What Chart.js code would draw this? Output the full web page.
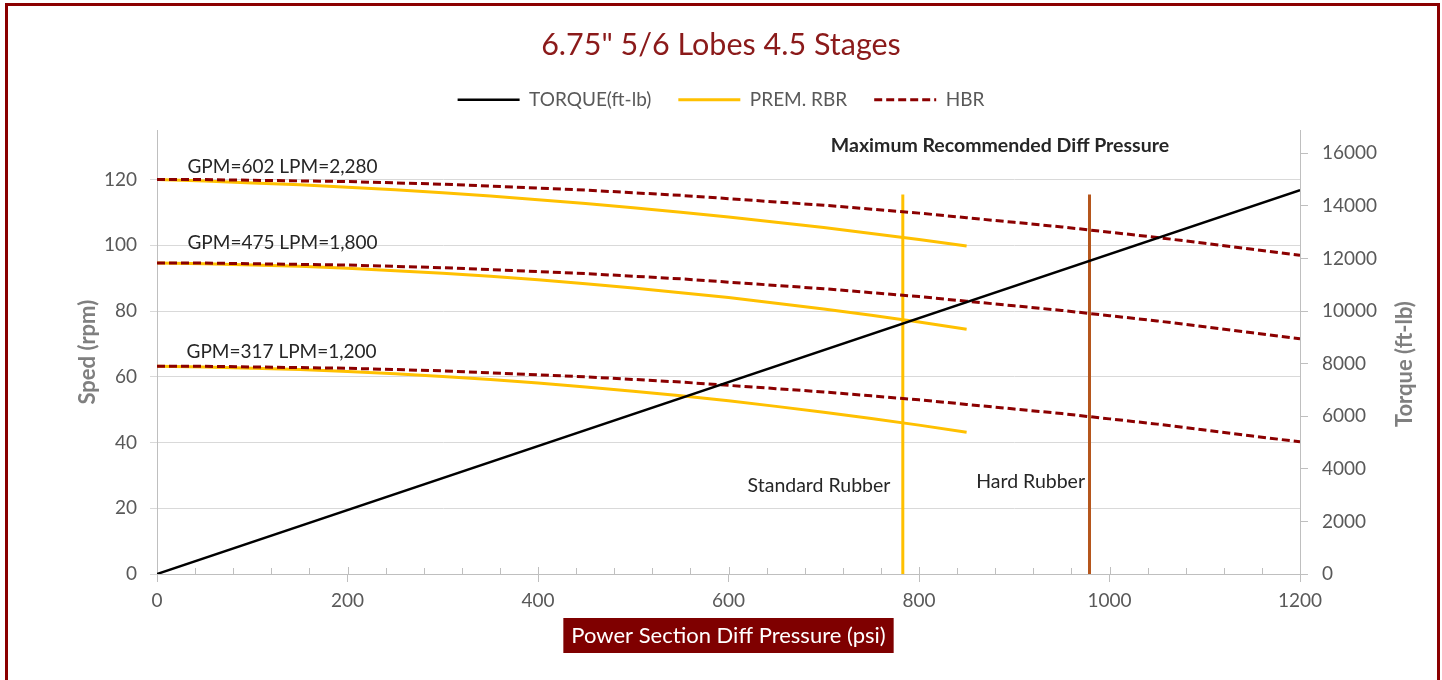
<!DOCTYPE html>
<html>
<head>
<meta charset="utf-8">
<script src="https://cdn.jsdelivr.net/npm/chart.js@4.4.1/dist/chart.umd.min.js"></script>
<style>
  html, body { margin: 0; padding: 0; background: #fff; overflow: hidden; }
  #wrap { position: relative; width: 1442px; height: 680px; }
  #frame {
    position: absolute; left: 5px; top: 3px; width: 1435px; height: 720px;
    box-sizing: border-box; border: 3px solid #8B0000; pointer-events: none;
  }
</style>
</head>
<body>
<div id="wrap">
  <canvas id="chart" width="1442" height="680"></canvas>
  <div id="frame"></div>
</div>
<script>
// ============================
// DATA
// ============================

const pressureRbr = [0, 50, 100, 150, 200, 250, 300, 350, 400, 450, 500, 550, 600, 650, 700, 750, 800, 850];
const rbr602 = [120.0, 119.6, 119.0, 118.4, 117.7, 116.9, 116.0, 115.0, 113.9, 112.7, 111.4, 110.1, 108.6, 107.0, 105.4, 103.6, 101.8, 99.8];
const rbr475 = [94.6, 94.4, 94.0, 93.6, 93.0, 92.3, 91.5, 90.6, 89.5, 88.3, 87.0, 85.6, 84.1, 82.4, 80.6, 78.7, 76.7, 74.5];
const rbr317 = [63.2, 63.0, 62.6, 62.2, 61.6, 60.9, 60.1, 59.2, 58.1, 56.9, 55.6, 54.2, 52.7, 51.0, 49.2, 47.3, 45.3, 43.1];

const pressureHbr = [0, 50, 100, 150, 200, 250, 300, 350, 400, 450, 500, 550, 600, 650, 700, 750, 800, 850, 900, 950, 1000, 1050, 1100, 1150, 1200];
const hbr602 = [120.0, 120.0, 119.8, 119.6, 119.4, 119.0, 118.6, 118.0, 117.4, 116.8, 116.0, 115.2, 114.2, 113.2, 112.2, 111.0, 109.8, 108.4, 107.0, 105.6, 104.0, 102.4, 100.6, 98.8, 97.0];
const hbr475 = [94.6, 94.6, 94.4, 94.2, 94.0, 93.6, 93.2, 92.6, 92.0, 91.4, 90.6, 89.8, 88.8, 87.8, 86.8, 85.6, 84.4, 83.0, 81.6, 80.2, 78.6, 77.0, 75.2, 73.4, 71.6];
const hbr317 = [63.2, 63.2, 63.0, 62.8, 62.6, 62.2, 61.8, 61.2, 60.6, 60.0, 59.2, 58.4, 57.4, 56.4, 55.4, 54.2, 53.0, 51.6, 50.2, 48.8, 47.2, 45.6, 43.8, 42.0, 40.2];

const torquePressure = [0, 1200];
const torqueValues = [0, 14600];

// max recommended diff pressure (psi): standard rubber, hard rubber
const limitPressure = [783, 979];
const limitSpeed = [0, 115.5];

const xTickValues = [0, 200, 400, 600, 800, 1000, 1200];
const speedTickValues = [0, 20, 40, 60, 80, 100, 120];
const torqueTickValues = [0, 2000, 4000, 6000, 8000, 10000, 12000, 14000, 16000];
const xRange = [0, 1200];
const speedRange = [0, 135];
const torqueRange = [0, 16875];
const xMinorStep = 40;

const chartTitle = '6.75" 5/6 Lobes 4.5 Stages';
const xTitle = 'Power Section Diff Pressure (psi)';

// ============================
// STYLE
// ============================

const C = {
  torque: '#000000',
  rbr: '#FFC000',
  hbr: '#8B0000',
  hard: '#B5561C',
  tick: '#595959',
  axis: '#BFBFBF',
  grid: '#D9D9D9',
  axisTitle: '#7F7F7F',
  text: '#262626'
};
const FONT = 'Lato';

Chart.defaults.font.family = FONT;

// text notes anchored in data units
const notes = [
  { text: 'GPM=602 LPM=2,280', x: 32, y: 124.0, size: 19 },
  { text: 'GPM=475 LPM=1,800', x: 32, y: 100.8, size: 19 },
  { text: 'GPM=317 LPM=1,200', x: 31, y: 67.6, size: 19 },
  { text: 'Maximum Recommended Diff Pressure', x: 885, y: 130.4, align: 'center', bold: true },
  { text: 'Standard Rubber', x: 770, y: 27.0, align: 'right' },
  { text: 'Hard Rubber', x: 860, y: 28.2 }
];

// ============================
// HELPERS
// ============================

function toPoints(xs, ys) {
  return xs.map((x, i) => ({ x, y: ys[i] }));
}

function curve(label, xs, ys, color, opts = {}) {
  return {
    label,
    data: toPoints(xs, ys),
    borderColor: color,
    backgroundColor: color,
    borderWidth: 3,
    pointRadius: 0,
    tension: 0,
    yAxisID: 'y',
    inLegend: false,
    ...opts
  };
}

function fixedTicks(values) {
  return scale => { scale.ticks = values.map(value => ({ value })); };
}

const datasets = [
  curve('TORQUE(ft-lb)', torquePressure, torqueValues, C.torque, { yAxisID: 'yT', borderWidth: 2.5, inLegend: true, order: 0 }),
  curve('PREM. RBR', pressureRbr, rbr602, C.rbr, { inLegend: true, order: 2 }),
  curve('PREM. RBR', pressureRbr, rbr475, C.rbr, { order: 2 }),
  curve('PREM. RBR', pressureRbr, rbr317, C.rbr, { order: 2 }),
  curve('HBR', pressureHbr, hbr602, C.hbr, { borderDash: [8, 4], inLegend: true, order: 1 }),
  curve('HBR', pressureHbr, hbr475, C.hbr, { borderDash: [8, 4], order: 1 }),
  curve('HBR', pressureHbr, hbr317, C.hbr, { borderDash: [8, 4], order: 1 }),
  curve('Standard Rubber', [limitPressure[0], limitPressure[0]], limitSpeed, C.rbr, { order: 3 }),
  curve('Hard Rubber', [limitPressure[1], limitPressure[1]], limitSpeed, C.hard, { order: 3 })
];

// ============================
// PLUGIN: ticks, notes, titles
// ============================

const decorPlugin = {
  id: 'decor',
  beforeDatasetsDraw(chart) {
    const { ctx, scales: { x, y } } = chart;
    ctx.save();
    ctx.strokeStyle = C.axis;
    ctx.lineWidth = 1;
    for (let v = xRange[0]; v <= xRange[1]; v += xMinorStep) {
      const px = Math.round(x.getPixelForValue(v)) + 0.5;
      const len = xTickValues.includes(v) ? 7 : 6;
      ctx.beginPath();
      ctx.moveTo(px, y.bottom);
      ctx.lineTo(px, y.bottom - len);
      ctx.stroke();
    }
    ctx.restore();
  },
  afterDraw(chart) {
    const { ctx, scales: { x, y, yT } } = chart;
    ctx.save();

    // notes
    notes.forEach(n => {
      ctx.font = (n.bold ? 'bold ' : '') + (n.size || 19.5) + 'px ' + FONT;
      ctx.fillStyle = C.text;
      ctx.textAlign = n.align || 'left';
      ctx.textBaseline = 'middle';
      ctx.fillText(n.text, x.getPixelForValue(n.x), y.getPixelForValue(n.y));
    });

    // right axis title (reads bottom to top)
    ctx.font = 'bold 22px ' + FONT;
    ctx.fillStyle = C.axisTitle;
    ctx.textAlign = 'center';
    ctx.textBaseline = 'middle';
    ctx.translate(yT.right - 37, (yT.top + yT.bottom) / 2 + 12);
    ctx.rotate(-Math.PI / 2);
    ctx.fillText('Torque (ft-lb)', 0, 0);
    ctx.setTransform(1, 0, 0, 1, 0, 0);

    // x axis title in a filled box
    ctx.font = '22px ' + FONT;
    const cx = (x.left + x.right) / 2;
    const w = ctx.measureText(xTitle).width + 16;
    const top = x.top + 44;
    ctx.fillStyle = '#7F0000';
    ctx.fillRect(cx - w / 2, top, w, 35);
    ctx.fillStyle = '#FFFFFF';
    ctx.fillText(xTitle, cx, top + 18);

    ctx.restore();
  }
};

// ============================
// CHART
// ============================

new Chart(document.getElementById('chart'), {
  type: 'line',
  data: { datasets },
  options: {
    responsive: false,
    animation: false,
    devicePixelRatio: 1,
    layout: { padding: 0 },
    plugins: {
      title: {
        display: true,
        text: chartTitle,
        color: '#8B1A1A',
        font: { family: FONT, size: 30.5, weight: 'normal' },
        padding: { top: 26.7, bottom: 0 }
      },
      subtitle: {
        display: true,
        text: '',
        weight: 500,
        font: { size: 1, lineHeight: 1 },
        padding: { top: 0, bottom: 10 }
      },
      legend: {
        position: 'top',
        labels: {
          usePointStyle: true,
          pointStyle: 'line',
          pointStyleWidth: 62,
          color: C.tick,
          font: { family: FONT, size: 19 },
          padding: 27,
          generateLabels: chart => Chart.defaults.plugins.legend.labels.generateLabels(chart).map(item => {
            const ds = chart.data.datasets[item.datasetIndex];
            return { ...item, lineDash: ds.borderDash || [], lineWidth: ds.borderWidth, strokeStyle: ds.borderColor };
          }),
          filter: (item, data) => data.datasets[item.datasetIndex].inLegend,
          sort: (a, b) => a.datasetIndex - b.datasetIndex
        }
      },
      tooltip: { enabled: false }
    },
    scales: {
      x: {
        type: 'linear',
        position: 'bottom',
        min: xRange[0],
        max: xRange[1],
        afterBuildTicks: fixedTicks(xTickValues),
        ticks: { color: C.tick, font: { size: 19 }, padding: 7, callback: v => String(v) },
        grid: { drawOnChartArea: false, drawTicks: true, tickLength: 8, color: C.axis },
        border: { color: C.axis },
        afterFit: s => { s.height = 106; }
      },
      y: {
        type: 'linear',
        position: 'left',
        bounds: 'data',
        min: speedRange[0],
        max: speedRange[1],
        afterBuildTicks: fixedTicks(speedTickValues),
        ticks: { color: C.tick, font: { size: 19 }, padding: 13, callback: v => String(v) },
        grid: { color: C.grid, tickLength: 7 },
        border: { color: C.axis },
        title: {
          display: true,
          text: 'Sped (rpm)',
          color: C.axisTitle,
          font: { family: FONT, size: 22, weight: 'bold' },
          padding: { top: 74.8, bottom: 0 }
        },
        afterFit: s => { s.width = 157; }
      },
      yT: {
        type: 'linear',
        position: 'right',
        bounds: 'data',
        min: torqueRange[0],
        max: torqueRange[1],
        afterBuildTicks: fixedTicks(torqueTickValues),
        ticks: { color: C.tick, font: { size: 19 }, padding: 14, callback: v => String(v) },
        grid: { drawOnChartArea: false, tickLength: 8, color: C.axis },
        border: { color: C.axis },
        afterFit: s => { s.width = 142; }
      }
    }
  },
  plugins: [decorPlugin]
});
</script>
</body>
</html>
